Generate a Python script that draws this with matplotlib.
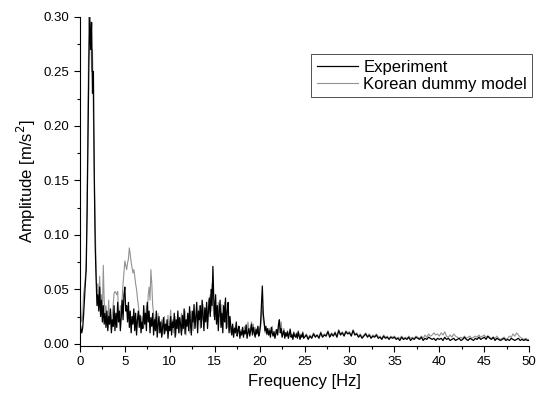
import numpy as np
import matplotlib
matplotlib.use("Agg")
import matplotlib.pyplot as plt
from matplotlib.ticker import MultipleLocator

plt.rcParams['font.family'] = ['Liberation Sans', 'DejaVu Sans']

# frequency axis: 0.1 Hz step up to 25 Hz, then 0.2 Hz step up to 50 Hz
freq = np.concatenate([np.arange(0, 24.95, 0.1), np.arange(25, 50.0001, 0.2)])

# amplitudes, in 1e-3 m/s^2
# below 25 Hz one row = 1 Hz, above 25 Hz one row = 5 Hz
experiment_milli = [
    20, 15, 10, 14, 25, 40, 55, 68, 120, 190,
    260, 300, 270, 295, 230, 250, 150, 90, 60, 35,
    45, 30, 52, 25, 40, 20, 35, 18, 28, 15,
    30, 12, 25, 18, 32, 10, 22, 16, 35, 12,
    28, 15, 38, 20, 30, 12, 25, 40, 22, 45,
    52, 30, 35, 20, 38, 15, 30, 10, 25, 18,
    32, 12, 28, 8, 22, 30, 15, 26, 10, 20,
    14, 35, 18, 28, 12, 38, 20, 30, 10, 24,
    16, 28, 8, 22, 12, 30, 6, 18, 25, 10,
    20, 6, 15, 24, 9, 18, 12, 22, 5, 16,
    12, 25, 8, 20, 15, 28, 6, 22, 14, 30,
    10, 24, 18, 8, 26, 14, 32, 9, 22, 16,
    28, 12, 34, 18, 8, 30, 20, 36, 14, 25,
    38, 10, 30, 22, 35, 15, 40, 26, 12, 33,
    20, 38, 14, 30, 42, 25, 50, 35, 71, 40,
    22, 45, 18, 35, 12, 30, 40, 15, 28, 10,
    35, 20, 42, 14, 30, 38, 10, 25, 15, 8,
    18, 6, 14, 10, 20, 7, 12, 16, 5, 11,
    8, 15, 6, 12, 9, 17, 5, 10, 14, 7,
    12, 18, 8, 15, 10, 6, 13, 9, 16, 7,
    10, 18, 35, 53, 28, 20, 12, 16, 9, 14,
    8, 12, 6, 15, 10, 7, 11, 5, 9, 13,
    8, 18, 22, 10, 14, 6, 9, 12, 5, 10,
    7, 11, 5, 9, 13, 6, 8, 4, 10, 7,
    6, 9, 5, 11, 7, 4, 8, 6, 10, 5,
    6, 8, 4, 7, 5, 9, 6, 8, 5, 10, 6, 8, 7, 11, 6, 9, 7, 10, 6, 12, 8, 10, 7, 11, 9,
    10, 7, 12, 8, 9, 6, 8, 5, 7, 9, 6, 8, 5, 7, 6, 8, 5, 6, 4, 7, 5, 6, 4, 6, 5,
    6, 4, 5, 3, 6, 4, 5, 4, 6, 3, 5, 4, 6, 5, 4, 6, 3, 5, 4, 6, 5, 4, 5, 3, 5,
    4, 5, 3, 6, 4, 5, 3, 4, 5, 3, 4, 5, 3, 4, 6, 4, 3, 5, 4, 3, 5, 4, 6, 4, 5,
    6, 4, 7, 5, 4, 6, 3, 5, 4, 3, 4, 5, 3, 4, 3, 5, 4, 3, 4, 5, 3, 4, 3, 4, 3,
    3,
]

model_milli = [
    48, 30, 20, 25, 45, 52, 60, 75, 130, 220,
    300, 280, 295, 250, 270, 210, 160, 110, 70, 45,
    55, 35, 62, 30, 45, 25, 72, 40, 28, 35,
    22, 15, 40, 18, 30, 12, 25, 35, 46, 48,
    47, 45, 48, 30, 20, 35, 25, 42, 55, 65,
    76, 72, 68, 74, 78, 88, 82, 75, 70, 65,
    68, 62, 55, 50, 42, 35, 28, 22, 18, 25,
    20, 15, 28, 18, 35, 25, 45, 52, 40, 68,
    55, 35, 28, 15, 24, 12, 20, 28, 10, 18,
    12, 22, 8, 15, 25, 10, 18, 14, 26, 12,
    20, 31, 15, 22, 10, 18, 25, 8, 20, 14,
    24, 10, 18, 28, 12, 20, 15, 30, 8, 22,
    16, 26, 10, 30, 18, 22, 12, 28, 20, 15,
    32, 18, 25, 35, 14, 28, 22, 36, 18, 30,
    26, 34, 20, 40, 28, 45, 30, 55, 38, 25,
    40, 28, 35, 20, 38, 25, 30, 18, 36, 22,
    30, 38, 20, 28, 15, 22, 12, 18, 10, 16,
    12, 8, 15, 10, 18, 9, 14, 11, 7, 13,
    10, 14, 8, 16, 12, 18, 10, 20, 14, 9,
    16, 20, 12, 18, 10, 15, 8, 14, 11, 16,
    12, 15, 25, 35, 22, 18, 10, 14, 8, 12,
    10, 14, 8, 12, 16, 9, 11, 7, 13, 10,
    9, 15, 18, 12, 20, 8, 11, 14, 7, 10,
    8, 12, 6, 10, 14, 7, 9, 5, 11, 8,
    7, 10, 6, 12, 8, 5, 9, 7, 11, 6,
    7, 9, 5, 8, 6, 10, 7, 8, 6, 11, 7, 9, 8, 12, 7, 10, 8, 11, 7, 13, 9, 11, 8, 12, 10,
    11, 8, 13, 9, 10, 7, 9, 6, 8, 10, 7, 9, 6, 8, 7, 9, 6, 7, 5, 8, 6, 7, 5, 7, 6,
    7, 5, 6, 5, 7, 5, 6, 5, 7, 5, 6, 5, 7, 6, 5, 7, 5, 8, 6, 9, 7, 8, 10, 8, 9,
    7, 10, 8, 11, 7, 6, 8, 6, 9, 7, 6, 5, 6, 5, 7, 5, 6, 7, 5, 6, 7, 6, 8, 6, 7,
    8, 6, 7, 6, 5, 6, 5, 7, 5, 4, 5, 6, 4, 5, 7, 6, 9, 7, 10, 8, 6, 5, 4, 5, 4,
    4,
]

experiment = np.array(experiment_milli) / 1000.0
model = np.array(model_milli) / 1000.0

fig = plt.figure(figsize=(5.4, 3.94), dpi=100)
ax = fig.add_axes([0.148, 0.122, 0.832, 0.835])

ax.plot(freq, model, color='#929292', lw=0.8, label='Korean dummy model')
ax.plot(freq, experiment, color='black', lw=0.9, label='Experiment')

ax.set_xlim(0, 50)
ax.set_ylim(-0.002, 0.30)
ax.xaxis.set_major_locator(MultipleLocator(5))
ax.xaxis.set_minor_locator(MultipleLocator(2.5))
ax.yaxis.set_major_locator(MultipleLocator(0.05))
ax.yaxis.set_minor_locator(MultipleLocator(0.025))
ax.yaxis.set_major_formatter(plt.FormatStrFormatter('%.2f'))
ax.tick_params(which='major', direction='out', length=4, width=0.8, labelsize=9.5)
ax.tick_params(which='minor', direction='out', length=2, width=0.8)

for side in ('top', 'right'):
    ax.spines[side].set_visible(False)

ax.set_xlabel('Frequency [Hz]', fontsize=12)
ax.set_ylabel('Amplitude [m/s$^2$]', fontsize=12)

# legend order: Experiment first
handles, labels = ax.get_legend_handles_labels()
leg = ax.legend(handles[::-1], labels[::-1], loc='upper right', bbox_to_anchor=(1.007, 0.886),
                fontsize=12, frameon=True, fancybox=False, handlelength=2.5,
                borderpad=0.32, labelspacing=0.12, handletextpad=0.3, borderaxespad=0)
leg.get_frame().set_edgecolor('black')
leg.get_frame().set_linewidth(0.6)

fig.savefig('out.png', dpi=100)
